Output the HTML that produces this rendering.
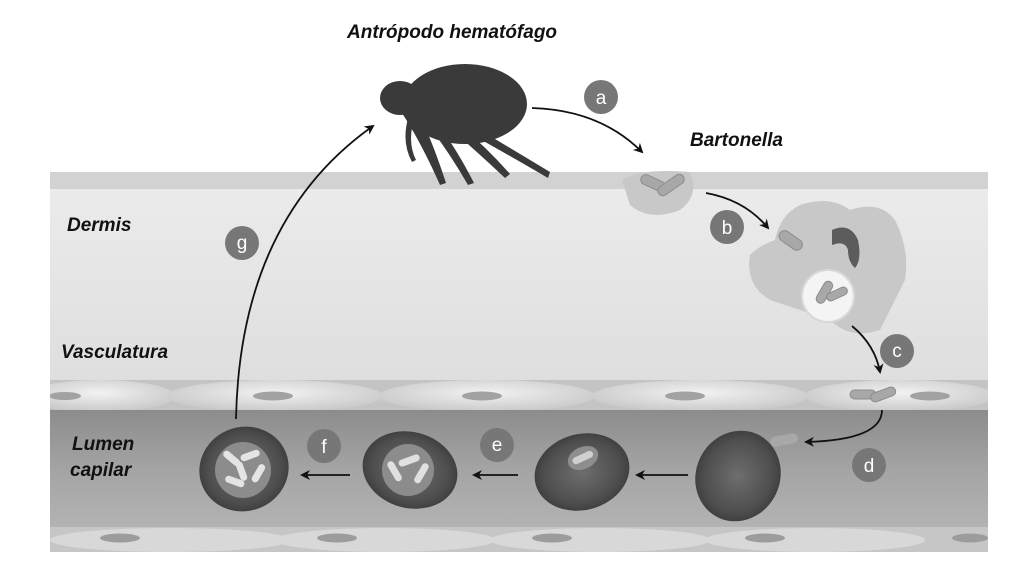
<!DOCTYPE html>
<html><head><meta charset="utf-8"><style>
html,body{margin:0;padding:0;background:#fff;width:1024px;height:571px;overflow:hidden}
svg{display:block}
text{font-family:"Liberation Sans",sans-serif}
</style></head><body>
<svg width="1024" height="571" viewBox="0 0 1024 571">
<defs>
<linearGradient id="derm" x1="0" y1="0" x2="0" y2="1"><stop offset="0" stop-color="#ececec"/><stop offset="1" stop-color="#dedede"/></linearGradient>
<linearGradient id="lum" x1="0" y1="0" x2="0" y2="1"><stop offset="0" stop-color="#8c8c8c"/><stop offset="0.5" stop-color="#a4a4a4"/><stop offset="1" stop-color="#b4b4b4"/></linearGradient>
<radialGradient id="cell" cx="0.5" cy="0.4" r="0.6"><stop offset="0" stop-color="#f2f2f2"/><stop offset="1" stop-color="#c8c8c8"/></radialGradient>
<radialGradient id="rbc" cx="0.5" cy="0.5" r="0.5"><stop offset="0" stop-color="#6e6e6e"/><stop offset="0.8" stop-color="#4e4e4e"/><stop offset="1" stop-color="#404040"/></radialGradient>
<marker id="ah" markerWidth="10" markerHeight="10" refX="8" refY="5" orient="auto" markerUnits="userSpaceOnUse"><path d="M0,0 L10,5 L0,10 L3,5 z" fill="#111"/></marker>
<clipPath id="pc"><rect x="50" y="172" width="938" height="380"/></clipPath>
</defs>
<g clip-path="url(#pc)">
<rect x="50" y="172" width="938" height="215" fill="url(#derm)"/>
<rect x="50" y="172" width="938" height="17" fill="#d2d2d2"/>
<rect x="50" y="380" width="938" height="32" fill="#c4c4c4"/>
<g fill="url(#cell)">
<ellipse cx="100" cy="396" rx="75" ry="16"/>
<ellipse cx="275" cy="396" rx="108" ry="16"/>
<ellipse cx="487" cy="396" rx="108" ry="16"/>
<ellipse cx="700" cy="396" rx="108" ry="16"/>
<ellipse cx="900" cy="396" rx="95" ry="16"/>
</g>
<g fill="#a2a2a2">
<ellipse cx="65" cy="396" rx="16" ry="4"/><ellipse cx="273" cy="396" rx="20" ry="4.5"/><ellipse cx="482" cy="396" rx="20" ry="4.5"/><ellipse cx="685" cy="396" rx="20" ry="4.5"/><ellipse cx="930" cy="396" rx="20" ry="4.5"/>
</g>
<rect x="50" y="410" width="938" height="120" fill="url(#lum)"/>
<rect x="50" y="527" width="938" height="25" fill="#c6c6c6"/>
<g fill="#d8d8d8">
<ellipse cx="170" cy="540" rx="120" ry="12"/><ellipse cx="385" cy="540" rx="110" ry="12"/><ellipse cx="600" cy="540" rx="110" ry="12"/><ellipse cx="815" cy="540" rx="110" ry="12"/>
</g>
<g fill="#9c9c9c">
<ellipse cx="120" cy="538" rx="20" ry="4.5"/><ellipse cx="337" cy="538" rx="20" ry="4.5"/><ellipse cx="552" cy="538" rx="20" ry="4.5"/><ellipse cx="765" cy="538" rx="20" ry="4.5"/><ellipse cx="970" cy="538" rx="18" ry="4.5"/>
</g>
</g>
<path d="M622,180 Q640,168 690,172 Q700,195 680,210 Q650,222 630,205 Z" fill="#c8c8c8"/>
<path d="M800,205 Q830,195 850,210 Q880,200 895,220 Q910,250 905,280 Q890,310 880,330 Q850,340 830,320 Q800,310 770,300 Q745,285 750,255 Q760,245 775,240 Q780,215 800,205 Z" fill="#c8c8c8"/>
<path d="M832,230 Q850,222 858,240 Q862,260 855,268 Q848,262 848,250 Q845,240 832,245 Z" fill="#5c5c5c"/>
<circle cx="828" cy="296" r="26" fill="#f4f4f4" stroke="#d8d8d8" stroke-width="2"/>
<g fill="#a8a8a8" stroke="#8c8c8c" stroke-width="1">
<rect x="640" y="178" width="26" height="10" rx="5" transform="rotate(25 653 183)"/>
<rect x="656" y="180" width="30" height="10" rx="5" transform="rotate(-35 671 185)"/>
<rect x="778" y="235" width="26" height="11" rx="5.5" transform="rotate(35 791 240)"/>
<rect x="812" y="288" width="24" height="9" rx="4.5" transform="rotate(-60 824 292)"/>
<rect x="826" y="290" width="22" height="8" rx="4" transform="rotate(-25 837 294)"/>
<rect x="850" y="390" width="26" height="9" rx="4.5"/>
<rect x="870" y="390" width="26" height="9" rx="4.5" transform="rotate(-20 883 394)"/>
</g>
<ellipse cx="244" cy="469" rx="45" ry="42" fill="url(#rbc)" transform="rotate(-20 244 469)"/>
<circle cx="243" cy="470" r="28" fill="#8c8c8c"/>
<g fill="#e4e4e4">
<rect x="222" y="455" width="20" height="7" rx="3.5" transform="rotate(40 232 458)"/>
<rect x="240" y="452" width="20" height="7" rx="3.5" transform="rotate(-20 250 455)"/>
<rect x="232" y="468" width="20" height="7" rx="3.5" transform="rotate(70 242 471)"/>
<rect x="248" y="470" width="20" height="7" rx="3.5" transform="rotate(-60 258 473)"/>
<rect x="225" y="478" width="20" height="7" rx="3.5" transform="rotate(20 235 481)"/>
</g>
<ellipse cx="410" cy="470" rx="48" ry="38" fill="url(#rbc)" transform="rotate(15 410 470)"/>
<circle cx="408" cy="470" r="26" fill="#8c8c8c"/>
<g fill="#e0e0e0">
<rect x="398" y="457" width="22" height="7" rx="3.5" transform="rotate(-20 409 460)"/>
<rect x="384" y="468" width="22" height="7" rx="3.5" transform="rotate(60 395 471)"/>
<rect x="410" y="470" width="22" height="7" rx="3.5" transform="rotate(-60 421 473)"/>
</g>
<ellipse cx="582" cy="472" rx="48" ry="38" fill="url(#rbc)" transform="rotate(-15 582 472)"/>
<ellipse cx="583" cy="458" rx="16" ry="11" fill="#8e8e8e" transform="rotate(-25 583 458)"/>
<rect x="572" y="454" width="22" height="7" rx="3.5" fill="#d0d0d0" transform="rotate(-25 583 458)"/>
<ellipse cx="738" cy="476" rx="42" ry="46" fill="url(#rbc)" transform="rotate(25 738 476)"/>
<rect x="770" y="435" width="28" height="10" rx="5" fill="#a8a8a8" transform="rotate(-10 784 440)"/>
<g fill="#3a3a3a">
<ellipse cx="465" cy="104" rx="62" ry="40"/>
<ellipse cx="400" cy="98" rx="20" ry="17"/>
<path d="M400,110 Q420,140 440,185 L446,183 Q432,140 418,112 Z"/>
<path d="M410,112 Q400,140 412,162 L416,160 Q406,140 416,114 Z"/>
<path d="M420,115 Q445,145 468,185 L474,183 Q452,140 430,115 Z"/>
<path d="M440,120 Q470,145 505,178 L510,174 Q480,140 450,118 Z"/>
<path d="M460,128 Q500,150 548,178 L550,172 Q505,145 470,124 Z"/>
</g>
<g fill="none" stroke="#111" stroke-width="1.8" marker-end="url(#ah)">
<path d="M532,108 Q600,110 642,152"/>
<path d="M706,193 Q745,200 768,228"/>
<path d="M852,326 Q875,345 880,372"/>
<path d="M882,410 Q882,440 806,442"/>
<path d="M688,475 L637,475"/>
<path d="M518,475 L474,475"/>
<path d="M350,475 L302,475"/>
<path d="M236,419 Q240,220 373,126"/>
</g>
<g fill="#777">
<circle cx="601" cy="97" r="17"/><circle cx="727" cy="227" r="17"/><circle cx="897" cy="351" r="17"/><circle cx="869" cy="465" r="17"/><circle cx="497" cy="445" r="17"/><circle cx="324" cy="446" r="17"/><circle cx="242" cy="243" r="17"/>
</g>
<g fill="#fff" font-size="19" text-anchor="middle">
<text x="601" y="104">a</text><text x="727" y="234">b</text><text x="897" y="357">c</text><text x="869" y="472">d</text><text x="497" y="451">e</text><text x="324" y="453">f</text><text x="242" y="249">g</text>
</g>
<g fill="#111" font-style="italic" font-size="19" font-weight="bold">
<text x="347" y="38">Antrópodo hematófago</text>
<text x="690" y="146">Bartonella</text>
<text x="67" y="231">Dermis</text>
<text x="61" y="358">Vasculatura</text>
<text x="72" y="450">Lumen</text>
<text x="70" y="476">capilar</text>
</g>
</svg>
</body></html>
